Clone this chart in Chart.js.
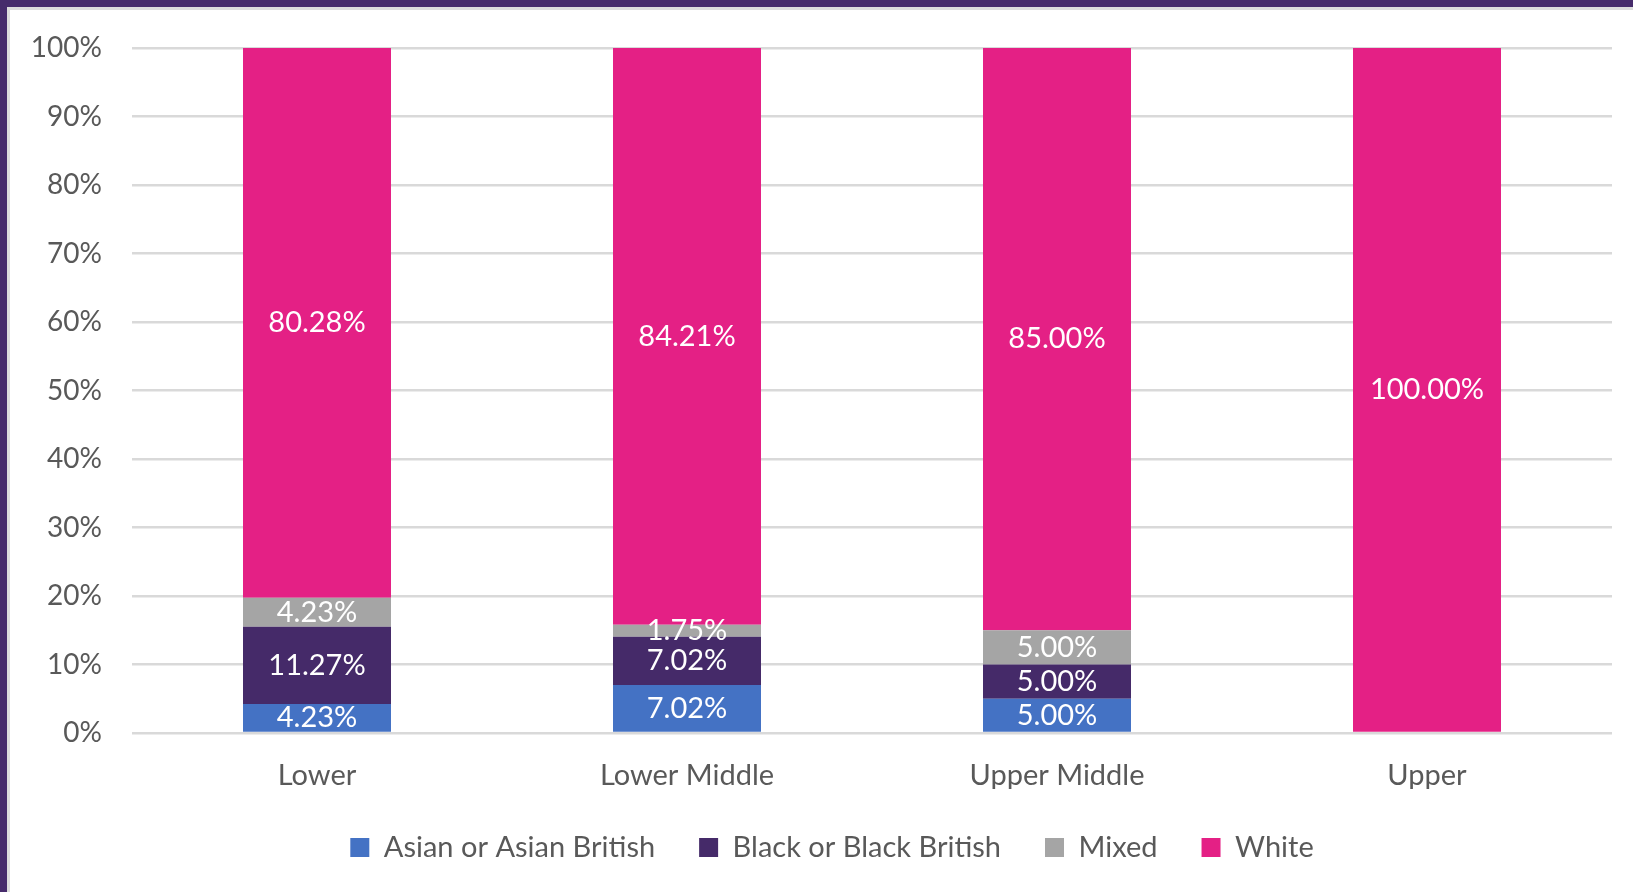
<!DOCTYPE html>
<html>
<head>
<meta charset="utf-8">
<script src="https://cdn.jsdelivr.net/npm/chart.js@4.4.1/dist/chart.umd.min.js"></script>
<style>
  html, body { margin: 0; padding: 0; width: 1633px; height: 892px; overflow: hidden; background: #fff; }
  .frame {
    position: absolute; left: 0; top: 0; width: 1626px; height: 885px;
    border-top: 7px solid #462b6b; border-left: 7px solid #462b6b;
  }
  .inner {
    position: absolute; left: 0; top: 0; width: 1623px; height: 882px;
    border-top: 3px solid #dcdcdc; border-left: 3px solid #dcdcdc;
  }
  .chart-box { position: absolute; left: 10px; top: 10px; width: 1623px; height: 862px; }
</style>
</head>
<body>
<div class="frame"><div class="inner"></div></div>
<div class="chart-box"><canvas id="ethnicityChart"></canvas></div>
<script>
// Ethnicity split by pay quartile (percent of each band)
const categories = ['Lower', 'Lower Middle', 'Upper Middle', 'Upper'];
const asianValues = [4.23, 7.02, 5.00, 0];
const blackValues = [11.27, 7.02, 5.00, 0];
const mixedValues = [4.23, 1.75, 5.00, 0];
const whiteValues = [80.28, 84.21, 85.00, 100.00];
const yTicks = [0, 10, 20, 30, 40, 50, 60, 70, 80, 90, 100];

const FONT = 'Lato, "Open Sans", sans-serif';
const TEXT_GREY = '#595959';

// draws the value inside each stacked segment
const segmentLabels = {
  id: 'segmentLabels',
  afterDatasetsDraw(chart) {
    const ctx = chart.ctx;
    ctx.save();
    ctx.font = '29px ' + FONT;
    ctx.fillStyle = '#ffffff';
    ctx.textAlign = 'center';
    ctx.textBaseline = 'middle';
    chart.data.datasets.forEach((ds, di) => {
      const meta = chart.getDatasetMeta(di);
      meta.data.forEach((bar, i) => {
        const v = ds.data[i];
        if (!v) return;
        ctx.fillText(v.toFixed(2) + '%', bar.x, (bar.y + bar.base) / 2);
      });
    });
    ctx.restore();
  }
};

// the original legend sits a little right of the canvas centre
const legendShift = {
  id: 'legendShift',
  afterLayout(chart) {
    if (!chart.legend) return;
    chart.legend.left += 21;
    chart.legend.right += 21;
  }
};

new Chart(document.getElementById('ethnicityChart'), {
  type: 'bar',
  data: {
    labels: categories,
    datasets: [
      { label: 'Asian or Asian British', data: asianValues, backgroundColor: '#4472c4' },
      { label: 'Black or Black British', data: blackValues, backgroundColor: '#452a69' },
      { label: 'Mixed', data: mixedValues, backgroundColor: '#a5a5a5' },
      { label: 'White', data: whiteValues, backgroundColor: '#e42085' }
    ]
  },
  options: {
    responsive: true,
    maintainAspectRatio: false,
    animation: false,
    datasets: {
      bar: { categoryPercentage: 1, barPercentage: 0.4, borderWidth: 0 }
    },
    layout: { padding: { top: 38, right: 21, bottom: 0, left: 0 } },
    plugins: {
      tooltip: { enabled: false },
      legend: {
        position: 'bottom',
        labels: {
          color: TEXT_GREY,
          font: { family: FONT, size: 29 },
          boxWidth: 19,
          boxHeight: 19,
          padding: 44
        }
      }
    },
    scales: {
      x: {
        stacked: true,
        grid: { display: false },
        border: { display: false },
        ticks: { color: TEXT_GREY, font: { family: FONT, size: 29 }, padding: 17, maxRotation: 0 },
        afterFit: (scale) => { scale.height = 56; }
      },
      y: {
        stacked: true,
        min: 0,
        max: 100,
        afterBuildTicks: (scale) => { scale.ticks = yTicks.map(v => ({ value: v })); },
        ticks: {
          color: TEXT_GREY,
          font: { family: FONT, size: 28 },
          padding: 6,
          callback: (value) => value + '%'
        },
        // invisible tick marks keep the gap between labels and grid lines
        grid: { color: '#d9d9d9', lineWidth: 2.5, drawTicks: true, tickLength: 24, tickColor: 'rgba(0,0,0,0)' },
        border: { display: false },
        afterFit: (scale) => { scale.width = 122; }
      }
    }
  },
  plugins: [segmentLabels, legendShift]
});
</script>
</body>
</html>
